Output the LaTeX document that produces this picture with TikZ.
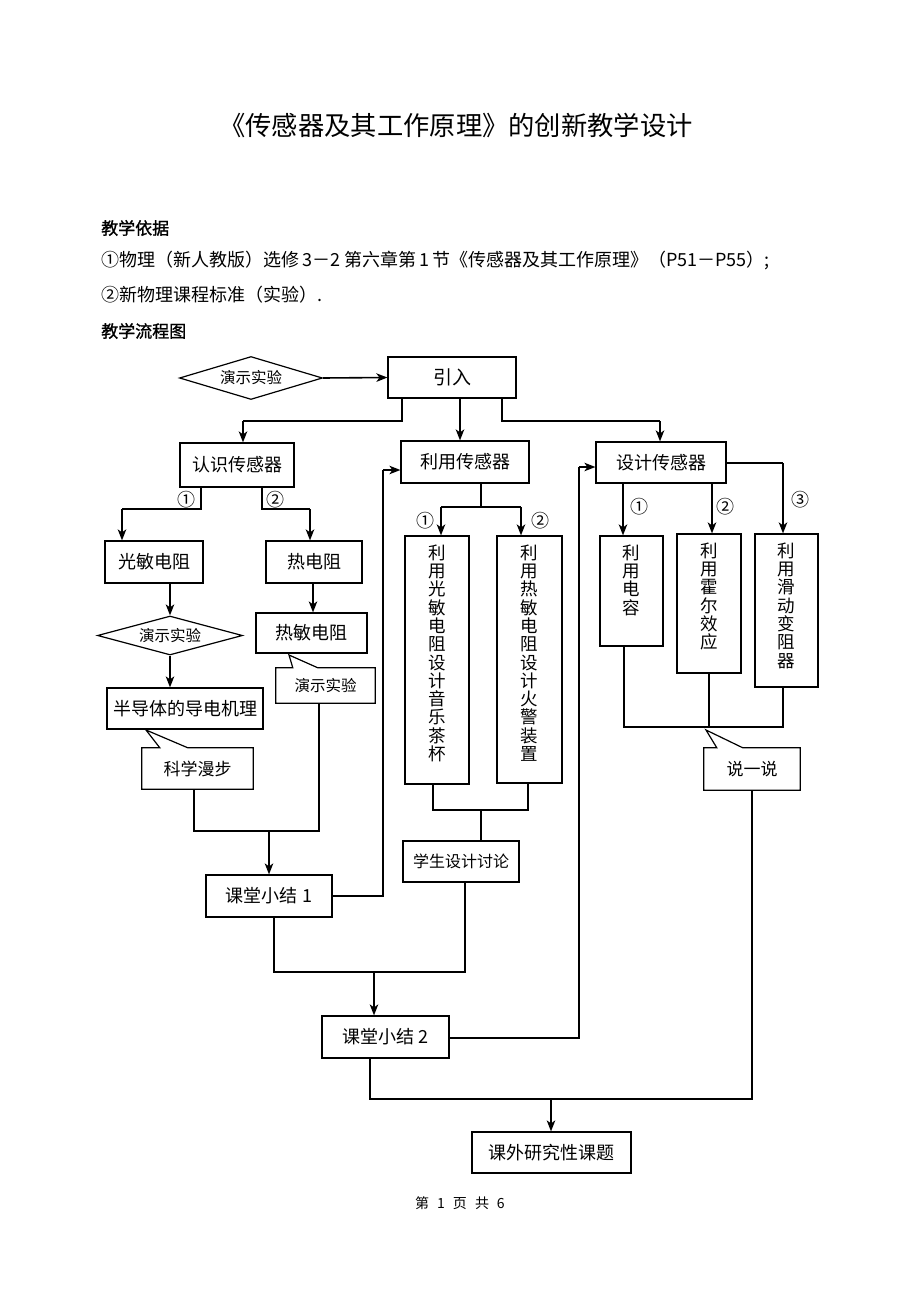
\documentclass[tikz,border=0pt]{standalone}
\usepackage{fontspec}
\setmainfont{Noto Sans CJK SC}
\newfontfamily\hei[FakeBold=1.2]{Noto Sans CJK SC}
\usetikzlibrary{arrows.meta,shapes.geometric,calc}
\tikzset{
 box/.style={draw, line width=1.2pt, inner sep=0pt, font=\fontsize{18}{20}\selectfont},
 callout/.style={inner sep=0pt, font=\fontsize{17}{20}\selectfont},
 dia/.style={draw, diamond, aspect=3.3, line width=1.2pt, inner sep=0pt, font=\fontsize{15.5}{17}\selectfont},
 ln/.style={line width=1.2pt},
 arr/.style={line width=1.6pt, -{Stealth[length=11pt,width=8.5pt,inset=3pt]}},
 lab/.style={font=\fontsize{18}{18}\selectfont, inner sep=0pt},
 vt/.style={anchor=north, align=center, inner sep=0pt, font=\fontsize{17.5}{18.3}\selectfont},
 txt/.style={anchor=west, inner sep=0pt, font=\fontsize{18}{20}\selectfont},
 head/.style={anchor=west, inner sep=0pt, font=\hei\fontsize{17}{20}\selectfont},
}
\begin{document}
\begin{tikzpicture}[x=1pt,y=-1pt]
\useasboundingbox[fill=white] (0,0) rectangle (920,1300);

% header texts
\node[inner sep=0pt, font=\fontsize{26.3}{28}\selectfont] (title) at (456,125) {《传感器及其工作原理》的创新教学设计};
\node[head] (h1) at (101,228) {教学依据};
\node[txt] (t1) at (101,261) {①物理（新人教版）选修\hspace{3pt}3－2\hspace{4pt}第六章第\hspace{3pt}1\hspace{3pt}节《传感器及其工作原理》（P51－P55）;};
\node[txt] (t2) at (101,295) {②新物理课程标准（实验）.};
\node[head] (h2) at (101,331) {教学流程图};
\node[inner sep=0pt, font=\fontsize{14}{16}\selectfont] (foot) at (460,1203) {第\hspace{8pt}1\hspace{8pt}页\hspace{8pt}共\hspace{8pt}6};

% nodes
\node[dia, minimum width=143pt, minimum height=43pt] (demo1) at (251,378) {演示实验};
\node[box, minimum width=128pt, minimum height=41pt, font=\fontsize{19}{21}\selectfont] (yinru) at (452,377.5) {引入};
\node[box, minimum width=114pt, minimum height=44pt] (rsc) at (237,465) {认识传感器};
\node[box, minimum width=128pt, minimum height=42pt] (lysc) at (465,462) {利用传感器};
\node[box, minimum width=130pt, minimum height=41pt] (sjsc) at (661,462.5) {设计传感器};
\node[box, minimum width=98pt, minimum height=42pt] (gmdz) at (154,562) {光敏电阻};
\node[box, minimum width=96pt, minimum height=42pt] (rdz) at (314,562) {热电阻};
\node[dia, minimum width=145pt, minimum height=39pt] (demo2) at (170,635.5) {演示实验};
\node[box, minimum width=111pt, minimum height=40pt] (rmdz) at (311.5,633) {热敏电阻};
\node[box, minimum width=156pt, minimum height=41pt] (bdt) at (185,708.5) {半导体的导电机理};
\node[callout, minimum width=111pt, minimum height=41pt] (kxmb) at (197.5,768.5) {科学漫步};
\node[callout, minimum width=99pt, minimum height=35pt, font=\fontsize{15.5}{17}\selectfont] (demo3) at (325.5,685.5) {演示实验};
\node[box, minimum width=126pt, minimum height=42pt] (kt1) at (269,896) {课堂小结 1};
\node[box, minimum width=64pt, minimum height=248pt] (v1) at (437,660) {};
\node[box, minimum width=65pt, minimum height=247pt] (v2) at (529.5,659.5) {};
\node[box, minimum width=116pt, minimum height=41pt, font=\fontsize{16}{18}\selectfont] (xssj) at (461,861.5) {学生设计讨论};
\node[box, minimum width=63pt, minimum height=110pt] (v3) at (631.5,591) {};
\node[box, minimum width=64pt, minimum height=139pt] (v4) at (709,603.5) {};
\node[box, minimum width=63pt, minimum height=153pt] (v5) at (786.5,610.5) {};
\node[callout, minimum width=96pt, minimum height=42pt] (syy) at (752,769) {说一说};
\node[box, minimum width=127pt, minimum height=42pt] (kt2) at (385.5,1037) {课堂小结 2};
\node[box, minimum width=159pt, minimum height=41pt] (kwyj) at (551.5,1152.5) {课外研究性课题};

% vertical texts
\node[vt] (v1t) at ([yshift=-9pt]v1.north) {利\\用\\光\\敏\\电\\阻\\设\\计\\音\\乐\\茶\\杯};
\node[vt] (v2t) at ([yshift=-9pt]v2.north) {利\\用\\热\\敏\\电\\阻\\设\\计\\火\\警\\装\\置};
\node[vt] (v3t) at ([yshift=-9pt]v3.north) {利\\用\\电\\容};
\node[vt] (v4t) at ([yshift=-9pt]v4.north) {利\\用\\霍\\尔\\效\\应};
\node[vt] (v5t) at ([yshift=-9pt]v5.north) {利\\用\\滑\\动\\变\\阻\\器};

% callout outlines
\coordinate (kxmbtip) at (146,730);
\draw[ln] (kxmb.north west) -- ([xshift=18pt]kxmb.north west) -- (kxmbtip) -- ([xshift=46pt]kxmb.north west) -- (kxmb.north east) -- (kxmb.south east) -- (kxmb.south west) -- cycle;
\coordinate (demo3tip) at (289,655);
\draw[ln] (demo3.north west) -- ([xshift=17pt]demo3.north west) -- (demo3tip) -- ([xshift=42pt]demo3.north west) -- (demo3.north east) -- (demo3.south east) -- (demo3.south west) -- cycle;
\coordinate (syytip) at (706,730);
\draw[ln] (syy.north west) -- ([xshift=13pt]syy.north west) -- (syytip) -- ([xshift=39pt]syy.north west) -- (syy.north east) -- (syy.south east) -- (syy.south west) -- cycle;

% labels
\node[lab] (l1) at (186,500) {①};
\node[lab] (l2) at (275,500) {②};
\node[lab] (l3) at (425,521) {①};
\node[lab] (l4) at (540,521) {②};
\node[lab] (l5) at (639,507) {①};
\node[lab] (l6) at (725,507) {②};
\node[lab] (l7) at (800,500) {③};

% coordinates
\coordinate (a1) at (402,421);
\coordinate (a2) at (243,421);
\coordinate (a3) at (502,421);
\coordinate (a4) at (660,421);
\coordinate (b1) at (201,509);
\coordinate (b2) at (122,509);
\coordinate (b3) at (262,509);
\coordinate (b4) at (310,509);
\coordinate (c1) at (194,831);
\coordinate (c2) at (319,831);
\coordinate (c3) at (269,831);
\coordinate (d1) at (383,896);
\coordinate (d2) at (383,470);
\coordinate (e1) at (441,507);
\coordinate (e2) at (521,507);
\coordinate (e3) at (481,507);
\coordinate (f1) at (433,810);
\coordinate (f2) at (528,810);
\coordinate (f3) at (481,810);
\coordinate (g1) at (274,972);
\coordinate (g2) at (465,972);
\coordinate (g3) at (374,972);
\coordinate (h1c) at (579,1038);
\coordinate (h2c) at (579,467);
\coordinate (k1) at (623,483);
\coordinate (k2) at (712,483);
\coordinate (k3) at (783,463);
\coordinate (m1) at (624,727);
\coordinate (m2) at (709,727);
\coordinate (m3) at (783,727);
\coordinate (n1) at (370,1099);
\coordinate (n2) at (752,1099);
\coordinate (n3) at (551,1099);

% connectors
\draw[arr] (demo1.east) -- (yinru.west);
\draw[ln] (yinru.south -| a1) -- (a1) -- (a2);
\draw[arr] (a2) -- (rsc.north -| a2);
\draw[arr] (yinru.south -| 460,0) -- (lysc.north -| 460,0);
\draw[ln] (yinru.south -| a3) -- (a3) -- (a4);
\draw[arr] (a4) -- (sjsc.north -| a4);

\draw[ln] (rsc.south -| b1) -- (b1) -- (b2);
\draw[arr] (b2) -- (gmdz.north -| b2);
\draw[ln] (rsc.south -| b3) -- (b3) -- (b4);
\draw[arr] (b4) -- (rdz.north -| b4);
\draw[arr] (gmdz.south -| demo2.north) -- (demo2.north);
\draw[arr] (rdz.south -| 313,0) -- (rmdz.north -| 313,0);
\draw[arr] (demo2.south) -- (bdt.north -| demo2.south);
\draw[ln] (kxmb.south -| c1) -- (c1) -- (c2) -- (demo3.south -| c2);
\draw[arr] (c3) -- (kt1.north -| c3);
\draw[ln] (kt1.east) -- (d1) -- (d2);
\draw[arr] (d2) -- (lysc.west |- d2);

\draw[ln] (lysc.south -| e3) -- (e3);
\draw[ln] (e1) -- (e2);
\draw[arr] (e1) -- (v1.north -| e1);
\draw[arr] (e2) -- (v2.north -| e2);
\draw[ln] (v1.south -| f1) -- (f1) -- (f2) -- (v2.south -| f2);
\draw[ln] (f3) -- (xssj.north -| f3);

\draw[ln] (kt1.south -| g1) -- (g1) -- (g2) -- (xssj.south -| g2);
\draw[arr] (g3) -- (kt2.north -| g3);
\draw[ln] (kt2.east |- h1c) -- (h1c) -- (h2c);
\draw[arr] (h2c) -- (sjsc.west |- h2c);

\draw[arr] (sjsc.south -| k1) -- (v3.north -| k1);
\draw[arr] (sjsc.south -| k2) -- (v4.north -| k2);
\draw[ln] (sjsc.east |- k3) -- (k3);
\draw[arr] (k3) -- (v5.north -| k3);
\draw[ln] (v3.south -| m1) -- (m1) -- (m3) -- (v5.south -| m3);
\draw[ln] (v4.south -| m2) -- (m2);

\draw[ln] (kt2.south -| n1) -- (n1) -- (n2) -- (syy.south -| n2);
\draw[arr] (n3) -- (kwyj.north -| n3);
\end{tikzpicture}
\end{document}
